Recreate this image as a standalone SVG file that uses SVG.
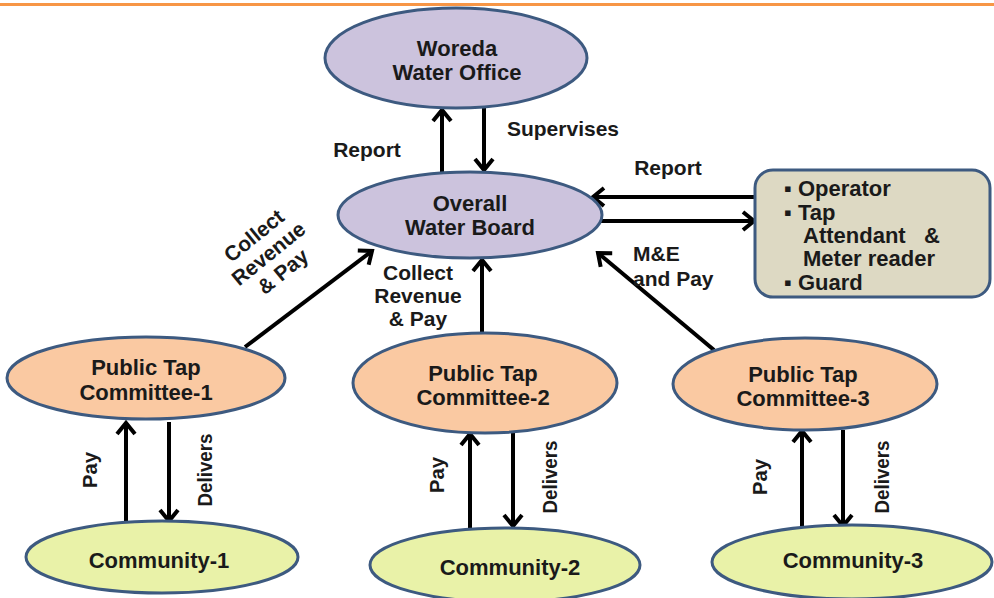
<svg xmlns="http://www.w3.org/2000/svg" width="994" height="598" viewBox="0 0 994 598">
<style>
.t{font-family:"Liberation Sans",Arial,sans-serif;font-weight:bold;font-size:22px;fill:#1a1a1a;text-anchor:middle}
.l{font-family:"Liberation Sans",Arial,sans-serif;font-weight:bold;font-size:21px;fill:#1a1a1a;text-anchor:middle}
.n{stroke:#3d5a80;stroke-width:3}
.purple{fill:#ccc3dd}
.peach{fill:#fac9a2}
.green{fill:#e9f2a8}
.c line{stroke:#000;stroke-width:4;marker-end:url(#ah)}
</style>
<defs>
<marker id="ah" markerUnits="userSpaceOnUse" markerWidth="22" markerHeight="22" refX="13" refY="11" orient="auto" overflow="visible">
<path d="M2,2 L13,11 L2,20" fill="none" stroke="#000" stroke-width="4"/>
</marker>
</defs>
<rect x="0" y="0" width="994" height="598" fill="#fff"/>
<rect x="0" y="3" width="994" height="3" fill="#f79646"/>

<g class="c" id="connectors">
<line x1="442" y1="172" x2="442" y2="110"/>
<line x1="484" y1="108" x2="484" y2="170"/>
<line x1="757" y1="197" x2="593" y2="197"/>
<line x1="600" y1="221" x2="754" y2="221"/>
<line x1="245" y1="347" x2="372" y2="251"/>
<line x1="482" y1="333" x2="482" y2="260"/>
<line x1="714" y1="350" x2="598" y2="253"/>
<line x1="126" y1="522" x2="126" y2="423"/>
<line x1="169" y1="422" x2="169" y2="521"/>
<line x1="470" y1="528" x2="470" y2="434"/>
<line x1="513" y1="433" x2="513" y2="526"/>
<line x1="802" y1="527" x2="802" y2="431"/>
<line x1="843" y1="430" x2="843" y2="526"/>
</g>

<g id="labels">
<text class="l" x="367" y="157">Report</text>
<text class="l" x="563" y="136">Supervises</text>
<text class="l" x="668" y="175">Report</text>
<text class="l" x="633" y="261" style="text-anchor:start">M&amp;E</text>
<text class="l" x="633" y="286" style="text-anchor:start">and Pay</text>
<text class="l" x="418" y="280">Collect</text>
<text class="l" x="418" y="303">Revenue</text>
<text class="l" x="418" y="326">&amp; Pay</text>
<g transform="translate(268,253) rotate(-39)">
<text class="l" x="0" y="-15">Collect</text>
<text class="l" x="0" y="8">Revenue</text>
<text class="l" x="0" y="31">&amp; Pay</text>
</g>
<text class="l" transform="translate(90,470) rotate(-90)" y="7" textLength="36" lengthAdjust="spacingAndGlyphs">Pay</text>
<text class="l" transform="translate(205,470) rotate(-90)" y="7" textLength="73" lengthAdjust="spacingAndGlyphs">Delivers</text>
<text class="l" transform="translate(437,475) rotate(-90)" y="7" textLength="36" lengthAdjust="spacingAndGlyphs">Pay</text>
<text class="l" transform="translate(550,477) rotate(-90)" y="7" textLength="73" lengthAdjust="spacingAndGlyphs">Delivers</text>
<text class="l" transform="translate(760,477) rotate(-90)" y="7" textLength="36" lengthAdjust="spacingAndGlyphs">Pay</text>
<text class="l" transform="translate(882,477) rotate(-90)" y="7" textLength="73" lengthAdjust="spacingAndGlyphs">Delivers</text>
</g>

<g id="woreda">
<ellipse class="n purple" cx="456" cy="58" rx="131" ry="50"/>
<text class="t" x="457" y="56">Woreda</text>
<text class="t" x="457" y="80">Water Office</text>
</g>
<g id="board">
<ellipse class="n purple" cx="470" cy="215" rx="132" ry="43"/>
<text class="t" x="470" y="211">Overall</text>
<text class="t" x="470" y="235">Water Board</text>
</g>
<g id="staff">
<rect class="n" x="755" y="170" width="235" height="127" rx="18" fill="#ddd9c3"/>
<text class="t" x="784" y="196" style="text-anchor:start">▪ Operator</text>
<text class="t" x="784" y="220" style="text-anchor:start">▪  Tap</text>
<text class="t" x="803" y="243" style="text-anchor:start" xml:space="preserve">Attendant   &amp;</text>
<text class="t" x="803" y="266" style="text-anchor:start">Meter reader</text>
<text class="t" x="784" y="290" style="text-anchor:start">▪ Guard</text>
</g>
<g id="ptc1">
<ellipse class="n peach" cx="146" cy="378" rx="139" ry="41"/>
<text class="t" x="146" y="375">Public Tap</text>
<text class="t" x="146" y="400">Committee-1</text>
</g>
<g id="ptc2">
<ellipse class="n peach" cx="485" cy="383" rx="132" ry="50"/>
<text class="t" x="483" y="381">Public Tap</text>
<text class="t" x="483" y="405">Committee-2</text>
</g>
<g id="ptc3">
<ellipse class="n peach" cx="805" cy="384" rx="132" ry="46"/>
<text class="t" x="803" y="382">Public Tap</text>
<text class="t" x="803" y="406">Committee-3</text>
</g>
<g id="community1">
<ellipse class="n green" cx="162" cy="557" rx="136" ry="36"/>
<text class="t" x="159" y="568">Community-1</text>
</g>
<g id="community2">
<ellipse class="n green" cx="505" cy="565" rx="135" ry="37"/>
<text class="t" x="510" y="575">Community-2</text>
</g>
<g id="community3">
<ellipse class="n green" cx="852" cy="562" rx="140" ry="37"/>
<text class="t" x="853" y="568">Community-3</text>
</g>
</svg>
